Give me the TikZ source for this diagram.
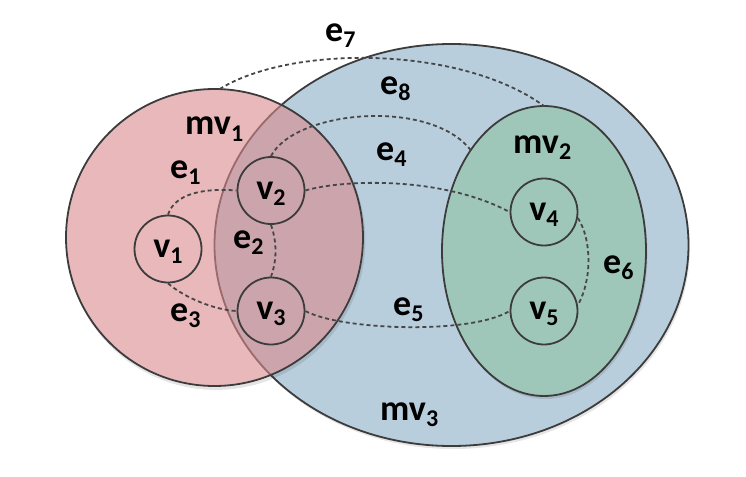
\documentclass[tikz,border=0pt]{standalone}
\usepackage{fontspec}
\setmainfont{Carlito}
\usetikzlibrary{shapes.geometric,shadows}
\definecolor{redfill}{RGB}{217,137,140}
\definecolor{bluefill}{RGB}{185,206,220}
\definecolor{greenfill}{RGB}{158,199,186}
\definecolor{linec}{RGB}{60,60,60}
\definecolor{dashc}{RGB}{70,70,70}
\newcommand\lb[2]{#1\raisebox{-6pt}{\fontsize{24}{24}\selectfont #2}}
\begin{document}
\begin{tikzpicture}[x=1pt,y=-1pt,
  font=\fontsize{36}{40}\selectfont\bfseries,
  outline/.style={draw=linec, line width=1.8pt},
  hyper/.style={outline, inner sep=0pt, outer sep=0pt},
  softshadow/.style={drop shadow={shadow xshift=1.5pt, shadow yshift=-3pt, opacity=0.1, fill=black}},
  vtx/.style={circle, outline, minimum size=67pt, inner sep=0pt, text height=17pt, text depth=0pt},
  hedge/.style={draw=dashc, line width=1.8pt, dash pattern=on 4pt off 3pt},
  lbl/.style={inner sep=0pt, anchor=base west}]
\useasboundingbox (0,0) rectangle (746,476);
% hypernodes
\node[hyper, ellipse, fill=bluefill, softshadow, minimum width=474pt, minimum height=402pt] (mv3) at (451.5,245) {};
\node[hyper, ellipse, fill=greenfill, softshadow, minimum width=204pt, minimum height=290pt] (mv2) at (544,251) {};
\begin{scope}[even odd rule]
  \clip (0,0) rectangle (746,476) (214.5,237.5) circle (149.4pt);
  \fill[black, opacity=0.1] (216,240.5) circle (149.4pt);
\end{scope}
\node[hyper, circle, fill=redfill, fill opacity=0.6, minimum size=297pt] (mv1) at (214.5,237.5) {};
% hypernode labels
\node[lbl] (lmv1) at (185,135) {\lb{mv}{1}};
\node[lbl] (lmv2) at (513,153) {\lb{mv}{2}};
\node[lbl] (lmv3) at (380,420) {\lb{mv}{3}};
% vertices
\node[vtx] (v1) at (168,249) {\lb{v}{1}};
\node[vtx] (v2) at (271,190.5) {\lb{v}{2}};
\node[vtx] (v3) at (271,311) {\lb{v}{3}};
\node[vtx] (v4) at (544,212) {\lb{v}{4}};
\node[vtx] (v5) at (544,311) {\lb{v}{5}};
% hyperedges
\draw[hedge] (v1.north) .. controls (175,193) and (205,188) .. (v2.west);
\draw[hedge] (v1.south) .. controls (185,298) and (215,310) .. (v3.west);
\draw[hedge] (v2.south) .. controls (277,242) and (277,260) .. (v3.north);
\draw[hedge] (v2.east) .. controls (340,180) and (440,175) .. (v4.west);
\draw[hedge] (v3.east) .. controls (340,330) and (470,335) .. (v5.west);
\draw[hedge] (v4.-10) .. controls (592,240) and (592,280) .. (v5.10);
\draw[hedge] (mv1.88) .. controls (290,45) and (460,45) .. (mv2.north);
\draw[hedge] (v2.north) .. controls (295,110) and (430,98) .. (mv2.126);
% edge labels
\node[lbl] (le1) at (170,178) {\lb{e}{1}};
\node[lbl] (le2) at (233,248) {\lb{e}{2}};
\node[lbl] (le3) at (170,321) {\lb{e}{3}};
\node[lbl] (le4) at (376,160) {\lb{e}{4}};
\node[lbl] (le5) at (393,315) {\lb{e}{5}};
\node[lbl] (le6) at (603,273) {\lb{e}{6}};
\node[lbl] (le7) at (325,42) {\lb{e}{7}};
\node[lbl] (le8) at (380,95) {\lb{e}{8}};
\end{tikzpicture}
\end{document}
